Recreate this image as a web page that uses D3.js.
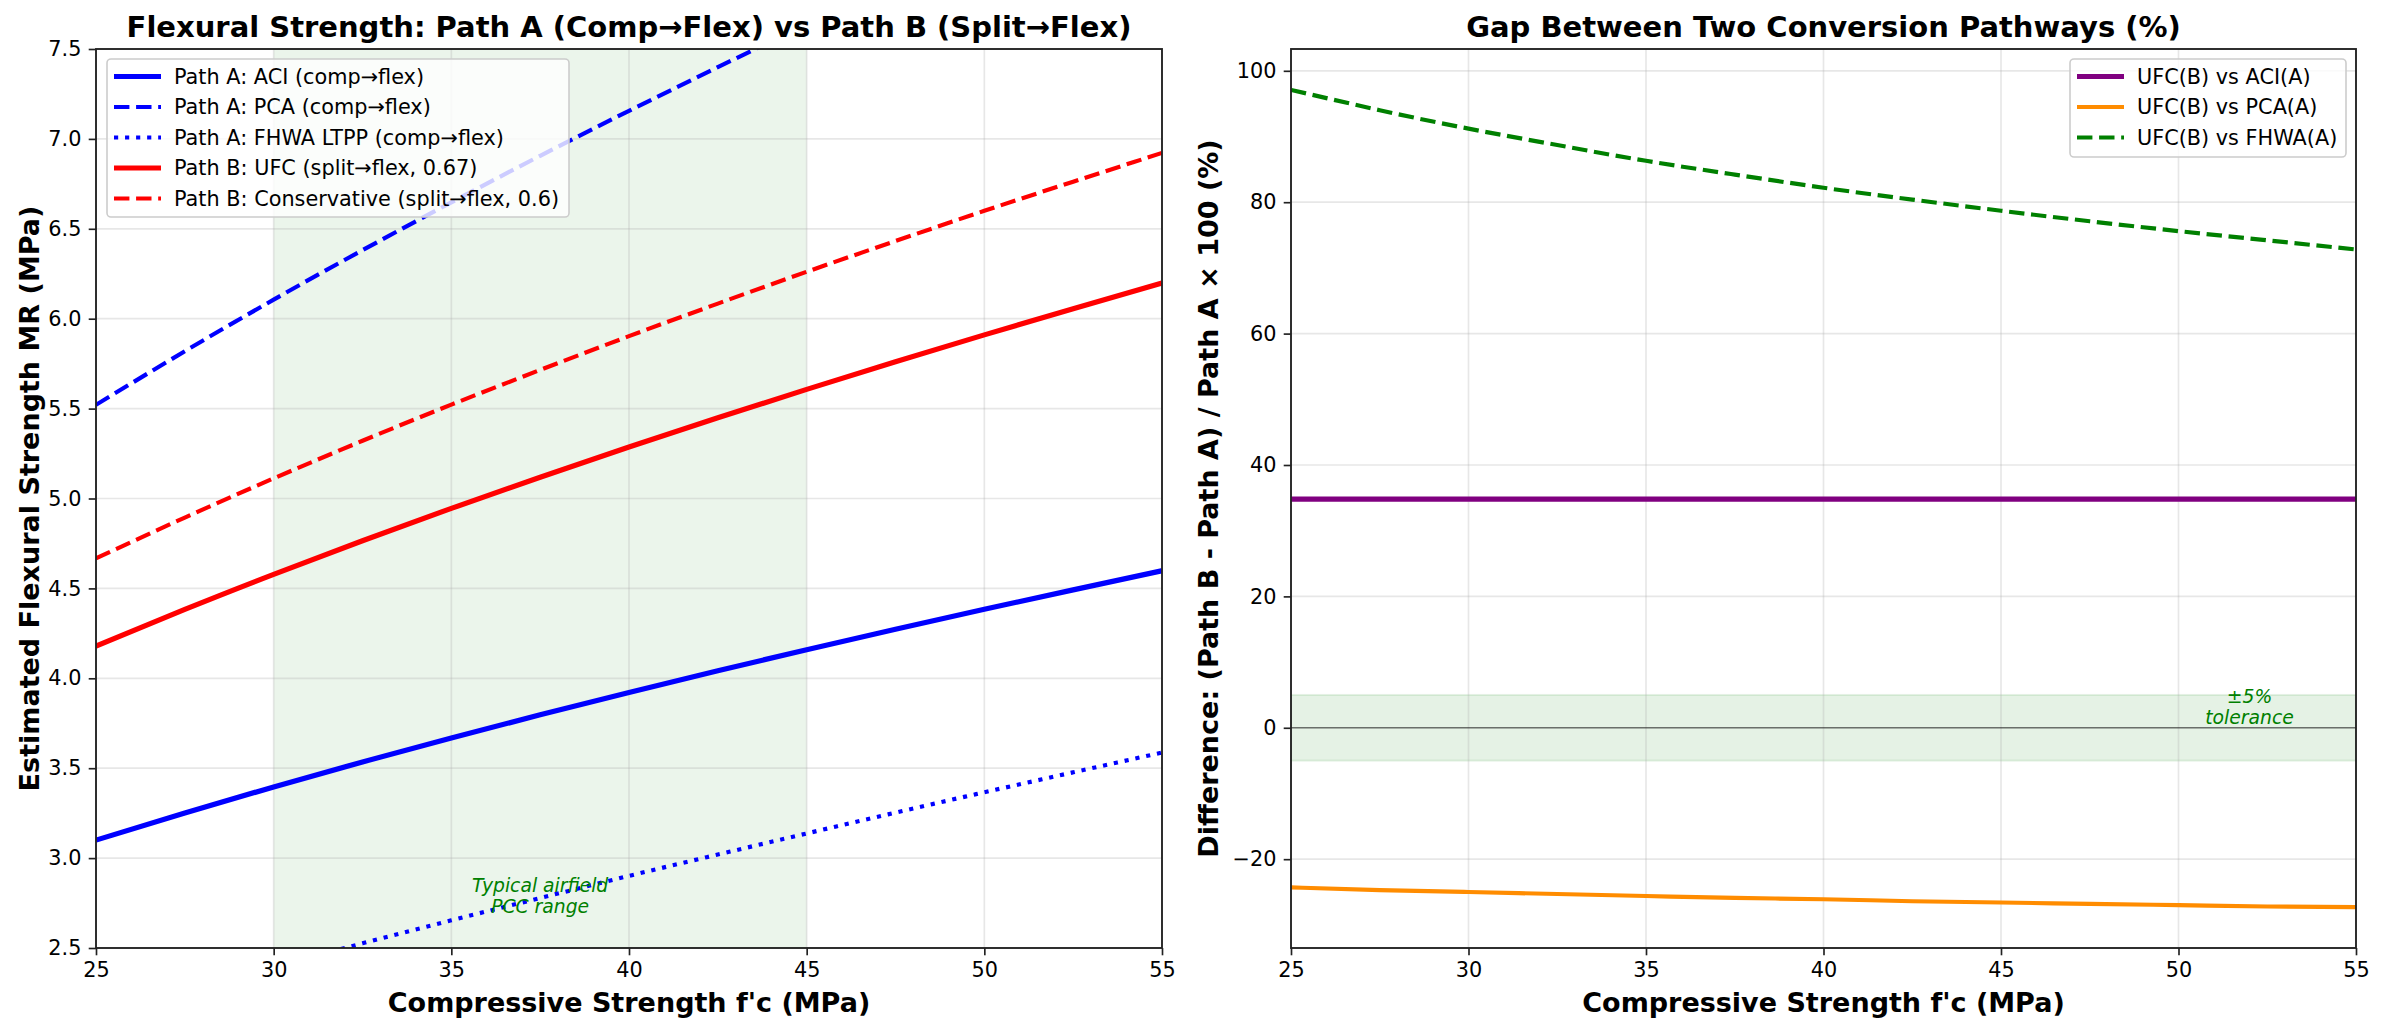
<!DOCTYPE html>
<html>
<head>
<meta charset="UTF-8">
<title>Flexural strength pathways</title>
<script src="https://cdn.jsdelivr.net/npm/d3@7"></script>
<style>
  body { margin: 0; background: #fff; }
  svg text { font-family: "DejaVu Sans", sans-serif; }
</style>
</head>
<body>
<svg id="chart" width="2384" height="1032"></svg>
<script>
// compressive strength samples (MPa)
var fcValues = [25, 27.5, 30, 32.5, 35, 37.5, 40, 42.5, 45, 47.5, 50, 52.5, 55];

// Path A: comp -> flex
var aciMR  = [3.100, 3.251, 3.396, 3.535, 3.668, 3.797, 3.921, 4.042, 4.159, 4.273, 4.384, 4.492, 4.598];
var pcaMR  = [5.521, 5.819, 6.106, 6.381, 6.647, 6.906, 7.156, 7.399, 7.637, 7.868, 8.093, 8.315, 8.531];
var fhwaMR = [2.120, 2.260, 2.394, 2.526, 2.654, 2.778, 2.901, 3.020, 3.137, 3.253, 3.366, 3.477, 3.587];
// Path B: split -> flex
var ufcMR  = [4.179, 4.383, 4.578, 4.765, 4.945, 5.118, 5.286, 5.449, 5.607, 5.760, 5.910, 6.056, 6.199];
var consMR = [4.667, 4.894, 5.112, 5.321, 5.522, 5.715, 5.903, 6.084, 6.261, 6.432, 6.600, 6.762, 6.922];

// gaps (%)
var gapACI  = [34.8, 34.8, 34.8, 34.8, 34.8, 34.8, 34.8, 34.8, 34.8, 34.8, 34.8, 34.8, 34.8];
var gapPCA  = [-24.3, -24.7, -25.0, -25.3, -25.6, -25.9, -26.1, -26.4, -26.6, -26.8, -27.0, -27.2, -27.3];
var gapFHWA = [97.1, 94.0, 91.2, 88.7, 86.3, 84.2, 82.2, 80.4, 78.7, 77.1, 75.6, 74.2, 72.8];

var xTicks = [25, 30, 35, 40, 45, 50, 55];
var leftYTicks = [2.5, 3.0, 3.5, 4.0, 4.5, 5.0, 5.5, 6.0, 6.5, 7.0, 7.5];
var rightYTicks = [-20, 0, 20, 40, 60, 80, 100];
var pccRange = [30, 45];
var toleranceBand = [-5, 5];

var pt = 150 / 72;
var svg = d3.select("#chart");
svg.append("rect").attr("width", 2384).attr("height", 1032).attr("fill", "#fff");

var L = {left: 96, right: 1162, top: 49, bottom: 948};
var R = {left: 1291, right: 2356, top: 49, bottom: 948};

var xL = d3.scaleLinear().domain([25, 55]).range([L.left, L.right]);
var yL = d3.scaleLinear().domain([2.5, 7.5]).range([L.bottom, L.top]);
var xR = d3.scaleLinear().domain([25, 55]).range([R.left, R.right]);
var allGaps = gapACI.concat(gapPCA, gapFHWA);
var gMin = d3.min(allGaps), gMax = d3.max(allGaps), pad = (gMax - gMin) * 0.05;
var yR = d3.scaleLinear().domain([gMin - pad, gMax + pad]).range([R.bottom, R.top]);

function clip(id, b) {
  svg.append("clipPath").attr("id", id).append("rect")
    .attr("x", b.left).attr("y", b.top).attr("width", b.right - b.left).attr("height", b.bottom - b.top);
}
clip("clipL", L);
clip("clipR", R);

function grid(g, x, y, xt, yt, b) {
  g.selectAll(".gx").data(xt).enter().append("line")
    .attr("x1", function(d){ return x(d); }).attr("x2", function(d){ return x(d); })
    .attr("y1", b.top).attr("y2", b.bottom)
    .attr("stroke", "#b0b0b0").attr("stroke-opacity", 0.3).attr("stroke-width", 0.8 * pt);
  g.selectAll(".gy").data(yt).enter().append("line")
    .attr("y1", function(d){ return y(d); }).attr("y2", function(d){ return y(d); })
    .attr("x1", b.left).attr("x2", b.right)
    .attr("stroke", "#b0b0b0").attr("stroke-opacity", 0.3).attr("stroke-width", 0.8 * pt);
}

function series(g, x, y, vals, color, lw, dash) {
  var line = d3.line()
    .x(function(d, i){ return x(fcValues[i]); })
    .y(function(d){ return y(d); })
    .curve(d3.curveNatural);
  g.append("path").attr("d", line(vals))
    .attr("fill", "none").attr("stroke", color).attr("stroke-width", lw * pt)
    .attr("stroke-dasharray", dash ? dash.map(function(v){ return v * lw * pt; }).join(",") : null);
}
var DASHED = [3.7, 1.6], DOTTED = [1, 1.65];

function axes(x, y, b, yFmt) {
  var ax = svg.append("g").attr("transform", "translate(0," + b.bottom + ")")
    .call(d3.axisBottom(x).tickValues(xTicks).tickFormat(d3.format("d")).tickSize(3.5 * pt).tickPadding(3.5 * pt));
  var ay = svg.append("g").attr("transform", "translate(" + b.left + ",0)")
    .call(d3.axisLeft(y).tickValues(y === yL ? leftYTicks : rightYTicks).tickFormat(yFmt).tickSize(3.5 * pt).tickPadding(3.5 * pt));
  [ax, ay].forEach(function(a){
    a.select(".domain").remove();
    a.selectAll("line").attr("stroke", "#222").attr("stroke-width", 0.8 * pt);
    a.selectAll("text").attr("font-size", 20.8).attr("fill", "#000").attr("font-family", "DejaVu Sans");
  });
  svg.append("rect").attr("x", b.left).attr("y", b.top)
    .attr("width", b.right - b.left).attr("height", b.bottom - b.top)
    .attr("fill", "none").attr("stroke", "#222").attr("stroke-width", 0.9 * pt);
}

function legend(x0, y0, w, h, items) {
  var lg = svg.append("g");
  lg.append("rect").attr("x", x0).attr("y", y0).attr("width", w).attr("height", h)
    .attr("rx", 4).attr("fill", "#fff").attr("fill-opacity", 0.8)
    .attr("stroke", "#cccccc").attr("stroke-width", 1.6);
  items.forEach(function(it, i){
    var cy = y0 + 17.5 + i * 30.5;
    lg.append("line").attr("x1", x0 + 7).attr("x2", x0 + 54).attr("y1", cy).attr("y2", cy)
      .attr("stroke", it.color).attr("stroke-width", it.lw * pt)
      .attr("stroke-dasharray", it.dash ? it.dash.map(function(v){ return v * it.lw * pt; }).join(",") : null);
    lg.append("text").attr("x", x0 + 67).attr("y", cy).attr("dy", "0.35em")
      .attr("font-size", 20.8).attr("fill", "#000").text(it.label);
  });
}

// ---------- left panel ----------
var gl = svg.append("g").attr("clip-path", "url(#clipL)");
gl.append("rect").attr("x", xL(pccRange[0])).attr("y", L.top)
  .attr("width", xL(pccRange[1]) - xL(pccRange[0])).attr("height", L.bottom - L.top)
  .attr("fill", "green").attr("fill-opacity", 0.08);
grid(gl, xL, yL, xTicks, leftYTicks, L);
series(gl, xL, yL, aciMR, "blue", 2.5, null);
series(gl, xL, yL, pcaMR, "blue", 2, DASHED);
series(gl, xL, yL, fhwaMR, "blue", 2, DOTTED);
series(gl, xL, yL, ufcMR, "red", 2.5, null);
series(gl, xL, yL, consMR, "red", 2, DASHED);

var ann = svg.append("text").attr("x", xL(37.5)).attr("y", yL(2.8))
  .attr("text-anchor", "middle").attr("font-size", 18.75).attr("font-style", "italic").attr("fill", "green");
ann.append("tspan").attr("x", xL(37.5)).attr("dy", "-0.12em").text("Typical airfield");
ann.append("tspan").attr("x", xL(37.5)).attr("dy", "1.12em").text("PCC range");

axes(xL, yL, L, d3.format(".1f"));
legend(107, 59, 462, 158, [
  {label: "Path A: ACI (comp→flex)", color: "blue", lw: 2.5},
  {label: "Path A: PCA (comp→flex)", color: "blue", lw: 2, dash: DASHED},
  {label: "Path A: FHWA LTPP (comp→flex)", color: "blue", lw: 2, dash: DOTTED},
  {label: "Path B: UFC (split→flex, 0.67)", color: "red", lw: 2.5},
  {label: "Path B: Conservative (split→flex, 0.6)", color: "red", lw: 2, dash: DASHED}
]);

// ---------- right panel ----------
var gr = svg.append("g").attr("clip-path", "url(#clipR)");
gr.append("rect").attr("x", R.left).attr("y", yR(toleranceBand[1]))
  .attr("width", R.right - R.left).attr("height", yR(toleranceBand[0]) - yR(toleranceBand[1]))
  .attr("fill", "green").attr("fill-opacity", 0.1)
  .attr("stroke", "green").attr("stroke-opacity", 0.1).attr("stroke-width", 2);
grid(gr, xR, yR, xTicks, rightYTicks, R);
gr.append("line").attr("x1", R.left).attr("x2", R.right).attr("y1", yR(0)).attr("y2", yR(0))
  .attr("stroke", "#000").attr("stroke-opacity", 0.5).attr("stroke-width", 0.8 * pt);
series(gr, xR, yR, gapACI, "purple", 2.5, null);
series(gr, xR, yR, gapPCA, "darkorange", 2, null);
series(gr, xR, yR, gapFHWA, "green", 2, DASHED);

var tol = svg.append("text").attr("x", xR(52)).attr("y", yR(3.5))
  .attr("text-anchor", "middle").attr("font-size", 18.75).attr("font-style", "italic").attr("fill", "green");
tol.append("tspan").attr("x", xR(52)).attr("dy", "-0.12em").text("±5%");
tol.append("tspan").attr("x", xR(52)).attr("dy", "1.12em").text("tolerance");

axes(xR, yR, R, d3.format("d"));
legend(2070, 59, 276, 98, [
  {label: "UFC(B) vs ACI(A)", color: "purple", lw: 2.5},
  {label: "UFC(B) vs PCA(A)", color: "darkorange", lw: 2},
  {label: "UFC(B) vs FHWA(A)", color: "green", lw: 2, dash: DASHED}
]);

// ---------- titles and labels ----------
function label(x, y, txt, size, rot) {
  svg.append("text").attr("transform", "translate(" + x + "," + y + ")" + (rot ? " rotate(-90)" : ""))
    .attr("text-anchor", "middle").attr("font-size", size).attr("font-weight", "bold").attr("fill", "#000")
    .text(txt);
}
label((L.left + L.right) / 2, 37, "Flexural Strength: Path A (Comp→Flex) vs Path B (Split→Flex)", 29);
label((R.left + R.right) / 2, 37, "Gap Between Two Conversion Pathways (%)", 29);
label((L.left + L.right) / 2, 1012, "Compressive Strength f'c (MPa)", 27);
label((R.left + R.right) / 2, 1012, "Compressive Strength f'c (MPa)", 27);
label(39, (L.top + L.bottom) / 2, "Estimated Flexural Strength MR (MPa)", 27, true);
label(1218, (R.top + R.bottom) / 2, "Difference: (Path B - Path A) / Path A × 100 (%)", 27, true);
</script>
</body>
</html>
